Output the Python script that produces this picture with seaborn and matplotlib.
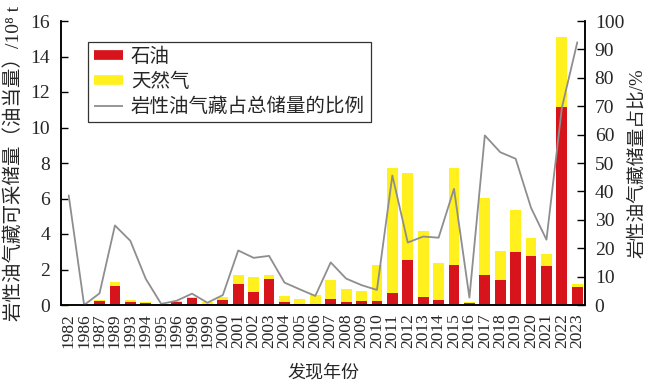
import matplotlib
matplotlib.use('Agg')
import matplotlib.pyplot as plt
import seaborn as sns
import pandas as pd
import numpy as np
from matplotlib.lines import Line2D
from matplotlib.ticker import FixedLocator, NullFormatter

years = ['1982', '1986', '1987', '1989', '1993', '1994', '1995', '1996', '1998', '1999',
         '2000', '2001', '2002', '2003', '2004', '2005', '2006', '2007', '2008', '2009',
         '2010', '2011', '2012', '2013', '2014', '2015', '2016', '2017', '2018', '2019',
         '2020', '2021', '2022', '2023']
oil = [0.0, 0.0, 0.2, 1.05, 0.18, 0.12, 0.0, 0.18, 0.4, 0.08,
       0.28, 1.2, 0.72, 1.48, 0.18, 0.03, 0.08, 0.35, 0.15, 0.2,
       0.25, 0.65, 2.52, 0.45, 0.28, 2.24, 0.12, 1.68, 1.4, 2.98,
       2.77, 2.18, 11.15, 1.0]
gas = [0.05, 0.0, 0.1, 0.25, 0.1, 0.05, 0.0, 0.02, 0.05, 0.1,
       0.15, 0.5, 0.88, 0.2, 0.35, 0.33, 0.47, 1.05, 0.75, 0.6,
       2.0, 7.07, 4.93, 3.7, 2.09, 5.5, 0.03, 4.35, 1.66, 2.35,
       1.03, 0.7, 3.93, 0.19]
ratio = [38.6, 0.0, 4.1, 28.0, 22.6, 9.2, 0.4, 1.5, 4.0, 0.8,
         3.5, 19.2, 16.6, 17.3, 7.9, 5.5, 3.2, 15.0, 9.3, 7.0,
         5.3, 45.6, 22.0, 24.1, 23.7, 40.9, 2.6, 59.7, 53.8, 51.5,
         34.2, 23.0, 69.5, 92.5]
left_ticks = [0, 2, 4, 6, 8, 10, 12, 14, 16]
right_ticks = [0, 10, 20, 30, 40, 50, 60, 70, 80, 90, 100]
legend_labels = ['石油', '天然气', '岩性油气藏占总储量的比例']

RED = '#d7141c'
YELLOW = '#fff01e'
GRAY = '#8e8e8e'

sns.set_style('white')
plt.rcParams['font.family'] = ['Liberation Serif', 'Noto Sans CJK SC', 'DejaVu Serif']
plt.rcParams['axes.unicode_minus'] = False

df = pd.DataFrame({'year': years, 'oil': oil, 'gas': gas, 'ratio': ratio})
df['total'] = df['oil'] + df['gas']
df['pos'] = np.arange(len(df))

fig = plt.figure(figsize=(6.5, 3.84), dpi=100)
ax = fig.add_axes([61 / 650, 1 - 305 / 384, 524 / 650, 284 / 384])

sns.barplot(data=df, x='year', y='total', order=years, color=YELLOW, width=0.7,
            saturation=1, errorbar=None, linewidth=0, ax=ax)
sns.barplot(data=df, x='year', y='oil', order=years, color=RED, width=0.7,
            saturation=1, errorbar=None, linewidth=0, ax=ax)

ax2 = ax.twinx()
sns.lineplot(data=df, x='pos', y='ratio', color=GRAY, linewidth=1.3, ax=ax2)

ax.set_xlim(-0.5, len(years) - 0.5)
ax.set_ylim(0, 16)
ax2.set_ylim(0, 100)
ax.set_yticks(left_ticks)
ax2.set_yticks(right_ticks)

ax.xaxis.set_major_locator(FixedLocator(np.arange(len(years))))
ax.set_xticklabels(years, rotation=90)
ax.xaxis.set_minor_locator(FixedLocator(np.arange(len(years) - 1) + 0.5))
ax.xaxis.set_minor_formatter(NullFormatter())
ax.tick_params(axis='x', which='major', length=0, labelsize=12.5, pad=6)
ax.tick_params(axis='x', which='minor', direction='in', length=5, width=1.1, color='black')
ax.tick_params(axis='y', direction='in', length=5, width=1, labelsize=14, pad=8, color='black')
ax2.tick_params(axis='y', direction='in', length=6, width=1, labelsize=14, pad=7, color='black')

for a in (ax, ax2):
    a.spines['top'].set_visible(False)
    for s in ('left', 'right', 'bottom'):
        a.spines[s].set_color('black')
        a.spines[s].set_linewidth(1.1)
    a.grid(False)

ax.set_ylabel('岩性油气藏可采储量（油当量）/10⁸ t', fontsize=14, labelpad=5)
ax2.set_ylabel('岩性油气藏储量占比/%', fontsize=13.5, labelpad=3)
ax.set_xlabel('发现年份', fontsize=13, labelpad=12)

handles = [Line2D([0], [0], color=RED, lw=7, solid_capstyle='butt'),
           Line2D([0], [0], color=YELLOW, lw=7, solid_capstyle='butt'),
           Line2D([0], [0], color=GRAY, lw=1.3, solid_capstyle='butt')]
leg = ax2.legend(handles, legend_labels, loc='upper left', bbox_to_anchor=(0.0515, 0.926),
                 borderaxespad=0, frameon=True, fancybox=False, edgecolor='black',
                 fontsize=14, handlelength=1.5, labelspacing=0.35, borderpad=0.3,
                 handletextpad=0.4)
leg.get_frame().set_linewidth(0.9)

fig.savefig('out.png', dpi=100)
